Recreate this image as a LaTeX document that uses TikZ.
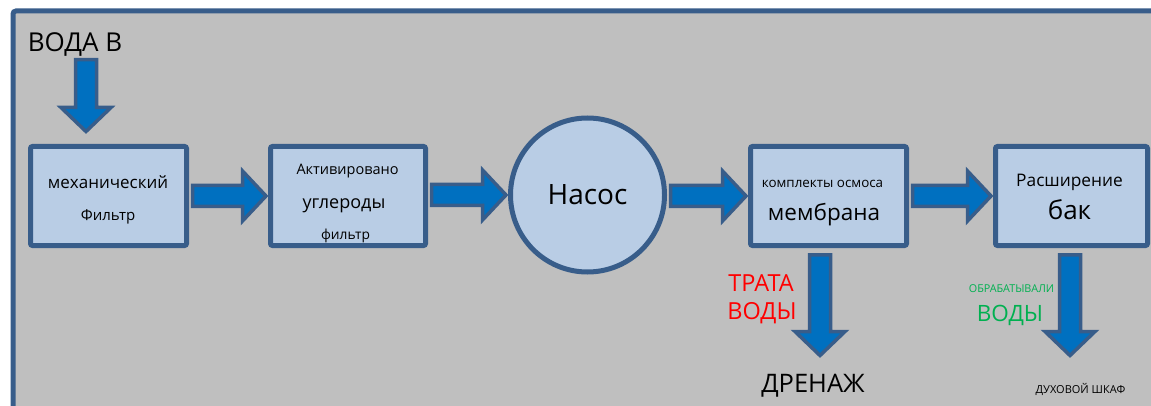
\documentclass[tikz,border=0pt]{standalone}
\usepackage{fontspec}
\setmainfont{Open Sans}
\usetikzlibrary{calc}
\definecolor{frameblue}{HTML}{385D8A}
\definecolor{boxfill}{HTML}{B9CDE5}
\definecolor{arrowfill}{HTML}{0070C0}
\definecolor{panelgray}{HTML}{BFBFBF}
\definecolor{wastered}{HTML}{FF0000}
\definecolor{goodgreen}{HTML}{00B050}
\newcommand\fsz[1]{\fontsize{#1}{#1}\selectfont}
\newcommand\rarr[2]{\draw[barrow] let \p1=(#1.east), \p2=(#2.west) in
  ({\x1+6pt},{\y2+10.5pt}) -- ({\x2-28pt},{\y2+10.5pt}) -- ({\x2-28pt},{\y2+25pt}) --
  ({\x2-4.5pt},{\y2}) -- ({\x2-28pt},{\y2-25pt}) -- ({\x2-28pt},{\y2-10.5pt}) --
  ({\x1+6pt},{\y2-10.5pt}) -- cycle;}
\newcommand\darr[2]{\draw[barrow] let \p1=(#1), \p2=(#2) in
  ({\x1-10.5pt},{\y1}) -- ({\x1-10.5pt},{\y2+24pt}) -- ({\x1-25pt},{\y2+24pt}) --
  ({\x2},{\y2}) -- ({\x1+25pt},{\y2+24pt}) -- ({\x1+10.5pt},{\y2+24pt}) --
  ({\x1+10.5pt},{\y1}) -- cycle;}
\tikzset{
  panel/.style={draw=frameblue, fill=panelgray, line width=5pt, rounded corners=3pt},
  stagebox/.style={draw=frameblue, fill=boxfill, line width=5pt, rounded corners=2pt,
    minimum height=99pt, inner sep=0pt, outer sep=0pt},
  pumpcircle/.style={circle, draw=frameblue, fill=boxfill, line width=5pt,
    minimum size=154pt, inner sep=0pt, outer sep=0pt},
  barrow/.style={draw=frameblue, fill=arrowfill, line width=3.5pt, line join=miter},
  lbl/.style={inner sep=0pt, outer sep=0pt, text=black}
}
\begin{document}
\begin{tikzpicture}[x=1pt,y=-1pt]
\useasboundingbox (0,0) rectangle (1151,406);
\fill[white] (0,0) rectangle (1151,406);
\draw[panel] (13,11) rectangle (1200,450);

% stages
\node[stagebox, minimum width=156pt] (b1) at (108.5,196) {};
\node[stagebox, minimum width=155pt] (b2) at (348,196) {};
\node[pumpcircle] (pump) at (587.5,195) {};
\node[stagebox, minimum width=156pt] (b3) at (828.5,196) {};
\node[stagebox, minimum width=152pt] (b4) at (1071.5,196) {};

% texts
\node[lbl, anchor=base] (tin) at (75,52) {\fsz{26}ВОДА В};
\node[lbl, anchor=base] (t1a) at (108,189) {\fsz{17}механический};
\node[lbl, anchor=base] (t1b) at (108,221) {\fsz{15}Фильтр};
\node[lbl, anchor=base] (t2a) at (347.5,175) {\fsz{14.5}Активировано};
\node[lbl, anchor=base] (t2b) at (344,208) {\fsz{18}углероды};
\node[lbl, anchor=base] (t2c) at (345.5,239.5) {\fsz{13.8}фильтр};
\node[lbl, anchor=base] (tp) at (587.5,205) {\fsz{28}Насос};
\node[lbl, anchor=base] (t3a) at (822.5,187.5) {\fsz{13.4}комплекты осмоса};
\node[lbl, anchor=base] (t3b) at (824,220.5) {\fsz{22.5}мембрана};
\node[lbl, anchor=base] (t4a) at (1069.5,187) {\fsz{17.3}Расширение};
\node[lbl, anchor=base] (t4b) at (1069.5,220) {\fsz{26}бак};
\node[lbl, anchor=base, text=wastered] (tw1) at (761,291) {\fsz{23.5}ТРАТА};
\node[lbl, anchor=base, text=wastered] (tw2) at (762,319) {\fsz{23.5}ВОДЫ};
\node[lbl, anchor=base, text=goodgreen] (tg1) at (1011.5,292) {\fsz{10.8}ОБРАБАТЫВАЛИ};
\node[lbl, anchor=base, text=goodgreen] (tg2) at (1010,321) {\fsz{22.5}ВОДЫ};
\node[lbl, anchor=base] (tdr) at (813,392) {\fsz{25.5}ДРЕНАЖ};
\node[lbl, anchor=base] (tov) at (1080.5,393.5) {\fsz{11}ДУХОВОЙ ШКАФ};

% connector end points
\coordinate (in0) at ($(b1.north)+(-22.5,-86.75)$);
\coordinate (in1) at ($(b1.north)+(-22.5,-15)$);
\coordinate (w0) at ($(b3.south)+(-8.5,9.25)$);
\coordinate (w1) at ($(b3.south)+(-8.5,110)$);
\coordinate (g0) at ($(b4.south)+(-1.5,9.25)$);
\coordinate (g1) at ($(b4.south)+(-1.5,110)$);

% block arrows
\darr{in0}{in1}
\rarr{b1}{b2}
\rarr{b2}{pump}
\rarr{pump}{b3}
\rarr{b3}{b4}
\darr{w0}{w1}
\darr{g0}{g1}
\end{tikzpicture}
\end{document}
